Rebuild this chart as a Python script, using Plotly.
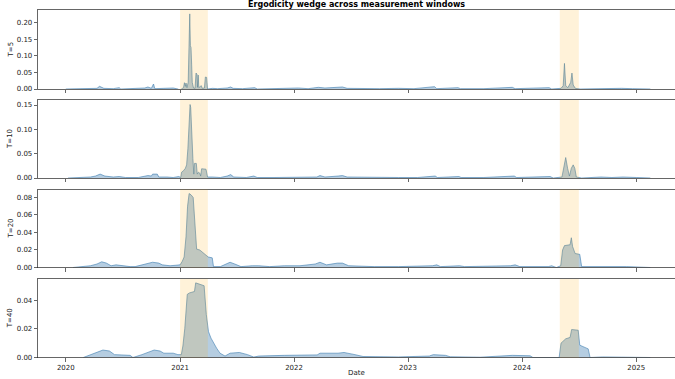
import plotly.graph_objects as go

# ---------------- data ----------------
dates_t5 = ["2020-01-01","2020-02-10","2020-03-01","2020-04-10","2020-04-18","2020-04-24","2020-05-02","2020-06-01","2020-06-20","2020-06-25",
            "2020-08-10","2020-09-10","2020-09-20","2020-10-01","2020-10-08","2020-10-12","2020-11-10","2020-12-10","2020-12-25","2021-01-01",
            "2021-01-05","2021-01-12","2021-01-15","2021-01-18","2021-01-20","2021-01-23","2021-01-27","2021-01-30","2021-02-01","2021-02-03",
            "2021-02-05","2021-02-07","2021-02-09","2021-02-13","2021-02-18","2021-02-21","2021-02-24","2021-02-26","2021-02-28","2021-03-02",
            "2021-03-07","2021-03-10","2021-03-13","2021-03-20","2021-03-23","2021-03-27","2021-03-30","2021-04-15","2021-05-01","2021-06-01",
            "2021-06-12","2021-06-20","2021-07-20","2021-08-28","2021-09-05","2021-10-15","2021-12-01","2022-01-15","2022-02-15","2022-03-20",
            "2022-04-10","2022-05-20","2022-06-05","2022-06-20","2022-08-01","2022-10-01","2022-12-01","2023-01-20","2023-03-27","2023-04-03",
            "2023-06-10","2023-06-18","2023-09-01","2023-12-01","2023-12-10","2024-03-28","2024-04-05","2024-05-05","2024-05-12","2024-05-16",
            "2024-05-20","2024-05-27","2024-06-05","2024-06-09","2024-06-13","2024-06-20","2024-07-05","2024-08-10","2024-09-01","2024-10-01",
            "2024-11-15","2024-12-20","2025-02-15"]
vals_t5 = [0.0,0.001,0.0,0.002,0.008,0.005,0.002,0.001,0.004,0.0,
           0.001,0.003,0.006,0.002,0.015,0.001,0.002,0.003,0.0,-0.004,
           0.0,0.004,0.019,0.008,0.018,0.004,0.02,0.12,0.226,0.13,
           0.125,0.075,0.02,0.003,0.002,0.048,0.045,0.005,0.042,0.004,
           0.008,0.01,0.002,0.003,0.036,0.035,0.0,0.002,0.001,0.003,
           0.006,0.002,0.001,0.004,0.0,0.001,0.002,0.003,0.001,0.005,
           0.003,0.004,0.006,0.002,0.001,0.001,0.002,0.001,0.007,0.001,
           0.004,0.001,0.001,0.005,0.001,0.004,0.0,0.002,0.01,0.077,
           0.01,0.004,0.02,0.048,0.012,0.002,0.0,0.001,0.002,0.001,
           0.002,0.001,0.0]

dates_t10 = ["2020-01-08","2020-02-20","2020-03-20","2020-04-05","2020-04-20","2020-05-05","2020-06-01","2020-06-20","2020-07-10","2020-08-20",
             "2020-09-10","2020-09-20","2020-10-01","2020-10-05","2020-10-20","2020-10-25","2020-11-20","2020-12-10","2020-12-28","2021-01-03",
             "2021-01-06","2021-01-12","2021-01-18","2021-01-22","2021-01-26","2021-01-30","2021-02-02","2021-02-04","2021-02-06","2021-02-08",
             "2021-02-11","2021-02-14","2021-02-16","2021-02-22","2021-02-25","2021-03-01","2021-03-05","2021-03-08","2021-03-11","2021-03-25",
             "2021-03-30","2021-04-15","2021-05-10","2021-06-01","2021-06-12","2021-06-22","2021-08-01","2021-08-25","2021-09-05","2021-11-01",
             "2022-01-10","2022-03-15","2022-03-25","2022-04-10","2022-05-22","2022-06-05","2022-06-20","2022-09-01","2022-12-01","2023-02-01",
             "2023-03-29","2023-04-05","2023-06-13","2023-06-20","2023-09-01","2023-12-07","2023-12-15","2024-03-31","2024-04-10","2024-05-08",
             "2024-05-14","2024-05-20","2024-05-26","2024-06-01","2024-06-07","2024-06-13","2024-06-18","2024-06-23","2024-07-10","2024-08-20",
             "2024-09-10","2024-10-15","2024-11-20","2025-01-01","2025-02-15"]
vals_t10 = [0.0,0.001,0.002,0.004,0.008,0.004,0.002,0.003,0.001,0.001,
            0.003,0.005,0.004,0.008,0.008,0.002,0.002,0.001,0.003,0.001,
            0.012,0.015,0.02,0.027,0.06,0.12,0.151,0.145,0.1,0.07,
            0.04,0.008,0.03,0.03,0.008,0.012,0.01,0.004,0.019,0.018,
            0.002,0.002,0.001,0.004,0.007,0.002,0.001,0.004,0.001,0.001,
            0.002,0.002,0.005,0.002,0.004,0.005,0.002,0.001,0.001,0.001,
            0.004,0.001,0.003,0.001,0.001,0.004,0.001,0.003,0.0,0.002,
            0.02,0.042,0.02,0.004,0.02,0.027,0.02,0.002,0.0,0.001,
            0.002,0.001,0.002,0.001,0.0]

dates_t20 = ["2020-01-24","2020-02-20","2020-03-20","2020-04-10","2020-04-25","2020-05-10","2020-05-25","2020-06-10","2020-07-01","2020-07-25",
             "2020-08-10","2020-09-01","2020-09-20","2020-10-05","2020-10-25","2020-11-05","2020-11-30","2020-12-20","2021-01-01","2021-01-08",
             "2021-01-14","2021-01-20","2021-01-25","2021-01-30","2021-02-05","2021-02-12","2021-02-15","2021-02-19","2021-02-23","2021-03-05",
             "2021-03-12","2021-03-22","2021-04-01","2021-04-14","2021-04-18","2021-05-10","2021-05-28","2021-06-10","2021-06-25","2021-07-15",
             "2021-08-20","2021-09-10","2021-10-15","2021-12-01","2022-01-20","2022-03-10","2022-03-25","2022-04-15","2022-05-20","2022-06-05",
             "2022-06-25","2022-09-15","2022-12-01","2023-03-20","2023-04-03","2023-04-15","2023-06-15","2023-07-01","2023-11-25","2023-12-10",
             "2023-12-25","2024-03-25","2024-04-05","2024-04-20","2024-05-04","2024-05-10","2024-05-16","2024-06-03","2024-06-07","2024-06-11",
             "2024-06-19","2024-07-04","2024-07-10","2024-08-15","2024-09-01","2024-12-01","2025-02-15"]
vals_t20 = [0.0,0.001,0.002,0.004,0.0065,0.005,0.002,0.003,0.002,0.001,
            0.001,0.003,0.004,0.006,0.005,0.003,0.002,0.003,0.003,0.007,
            0.012,0.035,0.07,0.0845,0.083,0.08,0.06,0.035,0.021,0.02,
            0.018,0.015,0.012,0.011,0.001,0.001,0.004,0.006,0.004,0.001,
            0.002,0.002,0.001,0.002,0.002,0.004,0.006,0.003,0.005,0.005,
            0.002,0.001,0.001,0.002,0.003,0.001,0.002,0.001,0.002,0.003,
            0.001,0.001,0.002,0.0,0.002,0.02,0.025,0.026,0.034,0.024,
            0.016,0.015,0.001,0.001,0.001,0.001,0.0]

dates_t40 = ["2020-02-26","2020-03-20","2020-04-10","2020-04-29","2020-05-20","2020-06-05","2020-07-25","2020-08-03","2020-09-01","2020-09-25",
             "2020-10-10","2020-10-29","2020-11-10","2020-12-10","2020-12-25","2021-01-05","2021-01-10","2021-01-16","2021-01-24","2021-01-31",
             "2021-02-16","2021-02-20","2021-03-10","2021-03-19","2021-03-26","2021-04-02","2021-04-10","2021-04-20","2021-04-28","2021-05-09",
             "2021-05-25","2021-06-10","2021-07-10","2021-08-05","2021-08-25","2021-09-10","2021-11-20","2021-12-01","2022-03-16","2022-03-25",
             "2022-05-22","2022-06-10","2022-07-15","2022-08-10","2022-12-01","2023-03-10","2023-03-23","2023-05-01","2023-05-16","2023-08-20",
             "2023-12-01","2024-01-27","2024-02-05","2024-04-29","2024-05-05","2024-05-20","2024-06-03","2024-06-08","2024-06-29","2024-07-04",
             "2024-07-31","2024-08-06","2024-09-15","2024-12-15","2025-02-15"]
vals_t40 = [0.0,0.002,0.004,0.0052,0.0045,0.002,0.0015,0.0,0.002,0.004,
            0.0052,0.0045,0.003,0.003,0.002,0.002,0.008,0.02,0.044,0.045,
            0.046,0.052,0.051,0.05,0.03,0.018,0.0135,0.009,0.0065,0.003,
            0.001,0.003,0.0035,0.002,0.0003,0.001,0.001,0.0015,0.0018,0.003,
            0.003,0.0035,0.002,0.0007,0.0004,0.001,0.002,0.0015,0.0005,0.0002,
            0.0015,0.0012,0.0,0.0,0.01,0.013,0.014,0.0195,0.019,0.0086,
            0.006,0.0,0.0004,0.0004,0.0]

panel_labels = ["T=5", "T=10", "T=20", "T=40"]
panel_dates = [dates_t5, dates_t10, dates_t20, dates_t40]
panel_vals = [vals_t5, vals_t10, vals_t20, vals_t40]
y_ranges = [[0, 0.2377], [0, 0.1603], [0, 0.0891], [0, 0.0547]]
y_ticks = [[0, 0.05, 0.10, 0.15, 0.20], [0, 0.05, 0.10, 0.15],
           [0, 0.02, 0.04, 0.06, 0.08], [0, 0.02, 0.04]]
event_windows = [("2021-01-01", "2021-03-31"), ("2024-05-01", "2024-07-01")]
year_ticks = ["2020-01-01", "2021-01-01", "2022-01-01", "2023-01-01", "2024-01-01", "2025-01-01"]
year_labels = ["2020", "2021", "2022", "2023", "2024", "2025"]

# ---------------- layout geometry ----------------
W, H = 675, 379
domains = [[1 - 89 / H, 1 - 10 / H], [1 - 178 / H, 1 - 100 / H],
           [1 - 267.5 / H, 1 - 189.5 / H], [1 - 357.5 / H, 1 - 279 / H]]
FONT = "DejaVu Sans"
AX_COL = "rgba(30,30,30,0.85)"

fig = go.Figure()
layout = dict(
    width=W, height=H,
    margin=dict(l=38, r=0, t=0, b=0, autoexpand=False),
    paper_bgcolor="white", plot_bgcolor="white",
    showlegend=False,
    font=dict(family=FONT, size=7, color="#222"),
)

annotations = []
shapes = []
for i in range(4):
    n = i + 1
    xa = "x" if n == 1 else f"x{n}"
    ya = "y" if n == 1 else f"y{n}"
    fig.add_trace(go.Scatter(
        x=panel_dates[i], y=panel_vals[i], xaxis=xa, yaxis=ya,
        mode="lines", fill="tozeroy",
        fillcolor="rgba(70,130,180,0.4)",
        line=dict(color="rgba(70,130,180,0.8)", width=0.8),
        hoverinfo="skip", cliponaxis=True,
    ))
    layout[f"xaxis{'' if n == 1 else n}"] = dict(
        domain=[0, 1], anchor=ya, matches=None if n == 4 else "x4",
        type="date", range=["2019-10-04", "2025-05-05"],
        tickvals=year_ticks, ticktext=year_labels,
        showticklabels=(n == 4), automargin=False,
        ticks="outside", ticklen=3.5, tickwidth=0.8, tickcolor=AX_COL,
        showline=True, linecolor=AX_COL, linewidth=0.8, mirror=True,
        showgrid=False, zeroline=False,
        tickfont=dict(family=FONT, size=7, color="#222"),
    )
    layout[f"yaxis{'' if n == 1 else n}"] = dict(
        domain=domains[i], anchor=xa, range=y_ranges[i],
        tickvals=y_ticks[i], tickformat=".2f", automargin=False,
        ticks="outside", ticklen=3.5, tickwidth=0.8, tickcolor=AX_COL,
        showline=True, linecolor=AX_COL, linewidth=0.8, mirror=True,
        showgrid=False, zeroline=False,
        tickfont=dict(family=FONT, size=7, color="#222"),
    )
    for (a, b) in event_windows:
        shapes.append(dict(type="rect", xref=xa, yref=f"{ya} domain",
                           x0=a, x1=b, y0=0, y1=1,
                           fillcolor="rgba(255,165,0,0.15)", line=dict(width=0),
                           layer="above"))
    annotations.append(dict(
        text=panel_labels[i], xref="paper", yref="paper",
        x=(10 - 38) / 637, y=(domains[i][0] + domains[i][1]) / 2,
        textangle=-90, showarrow=False, xanchor="center", yanchor="middle",
        font=dict(family=FONT, size=7, color="#222"),
    ))

annotations.append(dict(
    text="<b>Ergodicity wedge across measurement windows</b>",
    xref="paper", yref="paper", x=0.5, y=1 - 4.5 / H,
    showarrow=False, xanchor="center", yanchor="middle",
    font=dict(family=FONT, size=8, color="#000"),
))
annotations.append(dict(
    text="Date", xref="paper", yref="paper", x=0.5, y=1 - 373 / H,
    showarrow=False, xanchor="center", yanchor="middle",
    font=dict(family=FONT, size=7, color="#222"),
))

layout["annotations"] = annotations
layout["shapes"] = shapes
fig.update_layout(**layout)
fig.write_html("out.html",
               config={"displayModeBar": False, "staticPlot": True},
               post_script="document.body.style.margin='0';document.body.style.overflow='hidden';")
